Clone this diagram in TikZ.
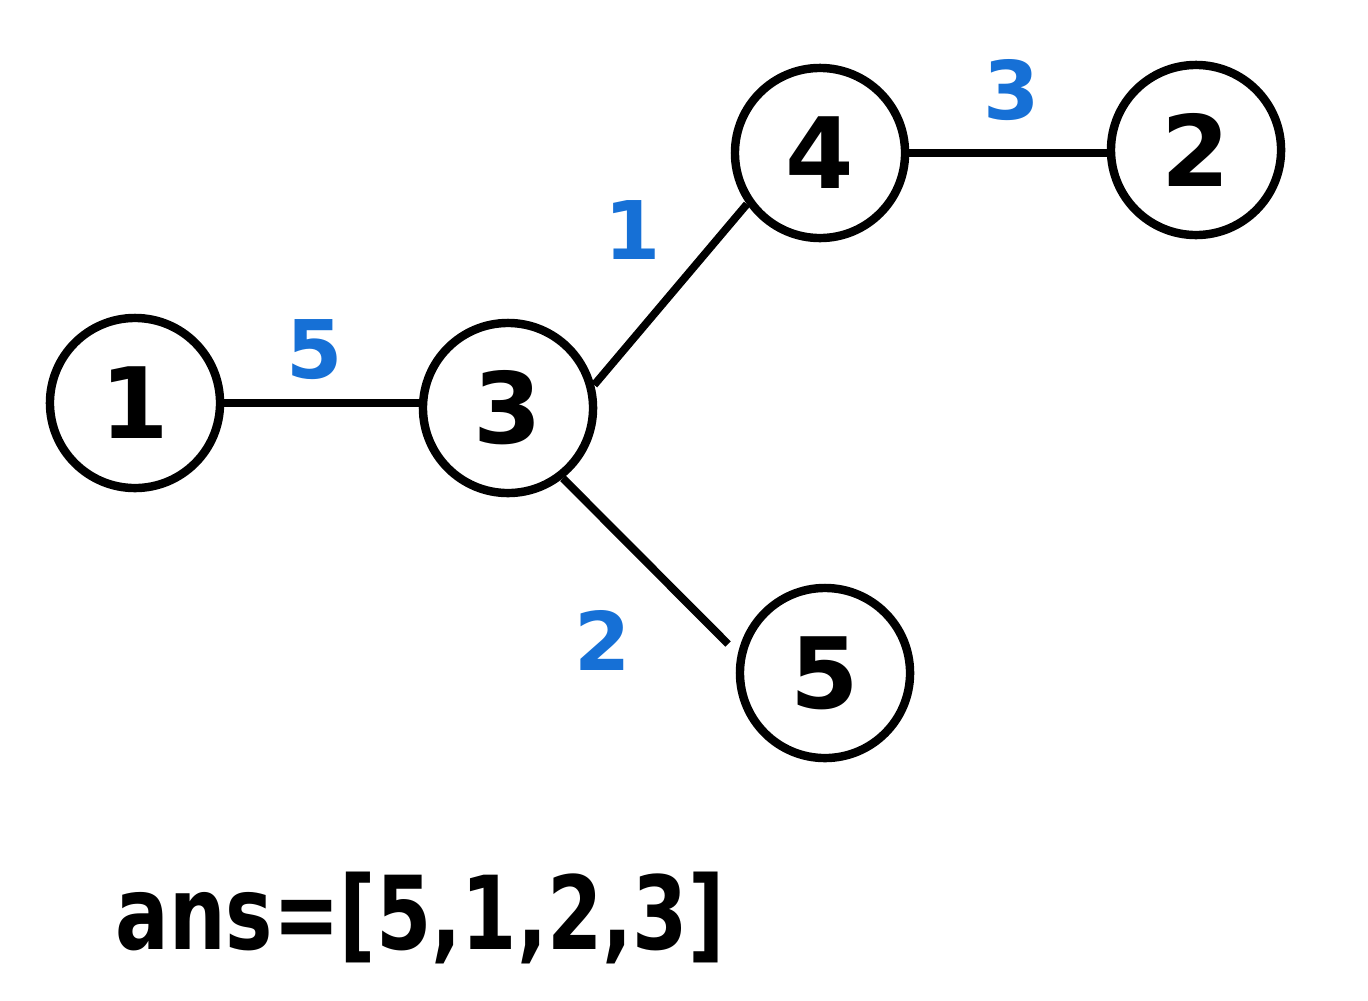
\documentclass[tikz,border=0pt]{standalone}
\usepackage{fontspec}
\setmainfont{DejaVu Sans}
\definecolor{lblue}{RGB}{22,112,214}
\begin{document}
\begin{tikzpicture}[x=0.01cm,y=-0.01cm,
  vert/.style={circle,draw=black,line width=2.4pt,minimum size=1.7cm,inner sep=0pt,font=\fontsize{28}{32}\selectfont\bfseries},
  edge/.style={line width=2.2pt,black},
  wlabel/.style={text=lblue,font=\fontsize{23}{27}\selectfont\bfseries}]
\useasboundingbox (0,0) rectangle (1368,1000);
\node[vert] (n1) at (135,403) {1};
\node[vert] (n3) at (508,408) {3};
\node[vert] (n4) at (820,153) {4};
\node[vert] (n2) at (1196,150) {2};
\node[vert] (n5) at (825,673) {5};
\coordinate (e5) at (728,644);
\draw[edge] (n1.east) -- (n1.east -| n3.west);
\draw[edge] (n3.15) -- (n4.215);
\draw[edge] (n4.east) -- (n4.east -| n2.west);
\draw[edge] (n3.-52) -- (e5);
\node[wlabel] (w13) at (315,350) {5};
\node[wlabel] (w34) at (633,230) {1};
\node[wlabel] (w42) at (1012,90) {3};
\node[wlabel] (w35) at (603,640) {2};
\node[font=\fontsize{29}{34}\selectfont\bfseries] (ans) at (420,918) {\scalebox{0.78}[1]{ans=[5,1,2,3]}};
\end{tikzpicture}
\end{document}
